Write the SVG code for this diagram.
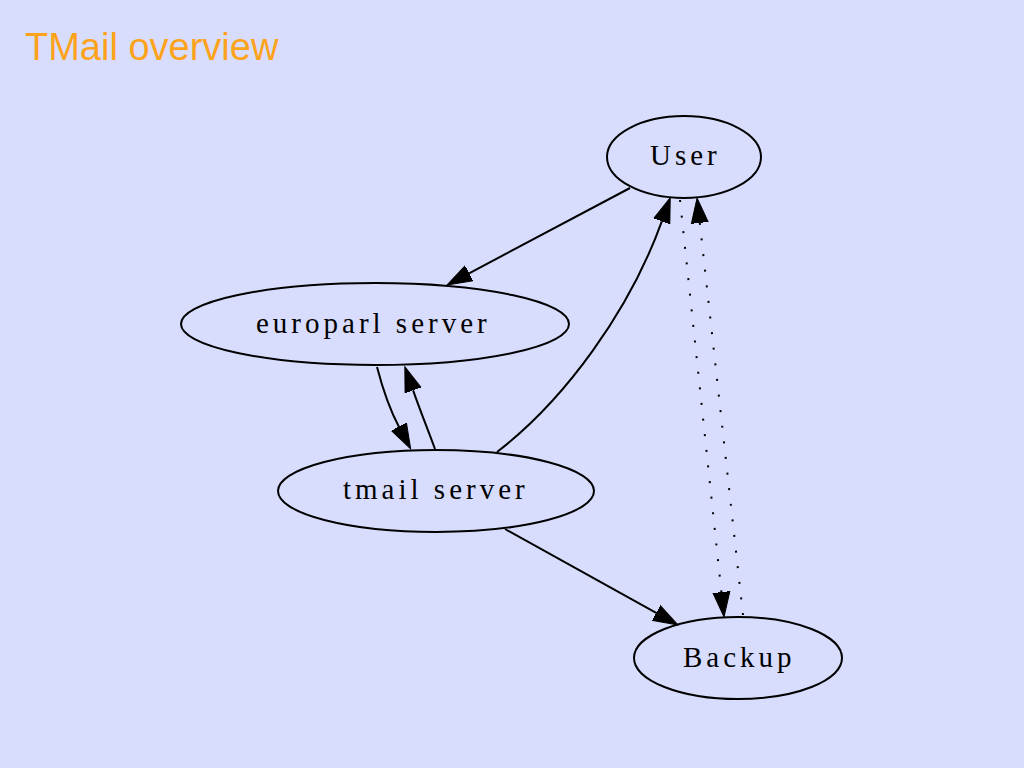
<svg xmlns="http://www.w3.org/2000/svg" width="1024" height="768" viewBox="0 0 1024 768">
<defs>
<style>
.bg{fill:#d8ddfd}
.title{font-family:"Liberation Sans","DejaVu Sans",sans-serif;font-size:38px;fill:#fda31b}
.node ellipse{fill:none;stroke:#000;stroke-width:2}
.node text{font-family:"Liberation Serif","Times New Roman",serif;font-size:29px;letter-spacing:4px;fill:#000}
.edge{fill:none;stroke:#000;stroke-width:2}
.dotted{stroke-dasharray:2 13.7}
</style>
<marker id="arr" markerUnits="userSpaceOnUse" markerWidth="28" markerHeight="20" viewBox="0 -10 28 20" refX="0" refY="0" orient="auto">
<path d="M0,-8.5 L25,0 L0,8.5 z" fill="#000" stroke="#000" stroke-width="1"/>
</marker>
</defs>
<rect class="bg" x="0" y="0" width="1024" height="768"/>
<text class="title" x="25" y="60">TMail overview</text>
<g id="connectors">
<path id="e_user_europarl" class="edge" d="M630,188 L469.1,273.3" marker-end="url(#arr)"/>
<path id="e_europarl_tmail" class="edge" d="M377,367 C383,390 390,410 398.9,426.7" marker-end="url(#arr)"/>
<path id="e_tmail_europarl" class="edge" d="M435,449 C428,430 420,410 413.1,390.3" marker-end="url(#arr)"/>
<path id="e_tmail_user" class="edge" d="M497,452 C565,400 630,310 661.8,221.3" marker-end="url(#arr)"/>
<path id="e_user_backup" class="edge dotted" d="M680,200 L721.4,592.1" marker-end="url(#arr)"/>
<path id="e_backup_user" class="edge dotted" d="M743,615 L699.8,222.9" marker-end="url(#arr)"/>
<path id="e_tmail_backup" class="edge" d="M505,529 L656.2,612.9" marker-end="url(#arr)"/>
</g>
<g id="node_user" class="node">
<ellipse cx="684" cy="157" rx="77" ry="41"/>
<text x="650" y="165">User</text>
</g>
<g id="node_europarl" class="node">
<ellipse cx="375" cy="324" rx="194" ry="41"/>
<text x="256" y="333">europarl server</text>
</g>
<g id="node_tmail" class="node">
<ellipse cx="436" cy="491" rx="158" ry="41"/>
<text x="343" y="499">tmail server</text>
</g>
<g id="node_backup" class="node">
<ellipse cx="738" cy="658" rx="104" ry="41"/>
<text x="683" y="667">Backup</text>
</g>
</svg>
